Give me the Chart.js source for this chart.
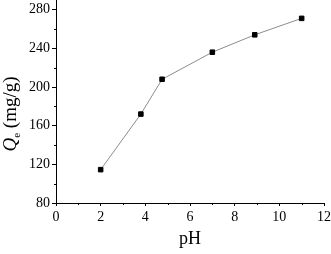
<!DOCTYPE html>
<html>
<head>
<meta charset="utf-8">
<script src="https://cdn.jsdelivr.net/npm/chart.js@4"></script>
<style>
  html, body { margin: 0; padding: 0; background: #fff; }
  #wrap { width: 331px; height: 254px; }
</style>
</head>
<body>
<div id="wrap"><canvas id="grafico"></canvas></div>
<script>
// datos
var phValores = [2, 3.8, 4.75, 7, 8.9, 11];
var qeValores = [114.5, 172, 208, 236, 254, 271];
var xMenores = [1, 3, 5, 7, 9, 11];
var yMenores = [100, 140, 180, 220, 260];

var puntos = phValores.map(function(v, i) { return { x: v, y: qeValores[i] }; });

var fuente = 'Liberation Serif, Times New Roman, serif';

// ticks menores y titulos de ejes
var extras = {
  id: 'extras',
  afterDraw: function(chart) {
    var ctx = chart.ctx, xs = chart.scales.x, ys = chart.scales.y, ca = chart.chartArea;
    ctx.save();
    ctx.strokeStyle = '#000';
    ctx.lineWidth = 1;
    ctx.beginPath();
    xMenores.forEach(function(v) {
      var px = Math.round(xs.getPixelForValue(v)) + 0.5;
      ctx.moveTo(px, ca.bottom);
      ctx.lineTo(px, ca.bottom + 2);
    });
    yMenores.forEach(function(v) {
      var py = Math.round(ys.getPixelForValue(v)) + 0.5;
      ctx.moveTo(ca.left, py);
      ctx.lineTo(ca.left - 2, py);
    });
    ctx.stroke();

    ctx.fillStyle = '#000';
    // titulo x
    ctx.font = '18px ' + fuente;
    ctx.textAlign = 'center';
    ctx.textBaseline = 'alphabetic';
    ctx.fillText('pH', (ca.left + ca.right) / 2, 244);

    // titulo y: Q cursiva con subindice e
    ctx.translate(16, 114);
    ctx.rotate(-Math.PI / 2);
    var partes = [
      { t: 'Q', f: 'italic 19px ' + fuente, dy: 0 },
      { t: 'e', f: '11px ' + fuente, dy: 4 },
      { t: ' (mg/g)', f: '19px ' + fuente, dy: 0 }
    ];
    var total = 0;
    partes.forEach(function(p) { ctx.font = p.f; p.w = ctx.measureText(p.t).width; total += p.w; });
    var x0 = -total / 2;
    ctx.textAlign = 'left';
    partes.forEach(function(p) {
      ctx.font = p.f;
      ctx.fillText(p.t, x0, p.dy);
      x0 += p.w;
    });
    ctx.restore();
  }
};

var graficoQe = new Chart(document.getElementById('grafico'), {
  type: 'line',
  data: {
    datasets: [{
      label: 'Qe',
      data: puntos,
      borderColor: '#8c8c8c',
      borderWidth: 1,
      pointStyle: 'rect',
      pointRadius: 3.2,
      pointBorderWidth: 1,
      pointBackgroundColor: '#000',
      pointBorderColor: '#000',
      tension: 0
    }]
  },
  options: {
    responsive: true,
    maintainAspectRatio: false,
    animation: false,
    layout: { autoPadding: false, padding: { top: 0, right: 7, left: 0, bottom: 0 } },
    plugins: { legend: { display: false }, tooltip: { enabled: false } },
    scales: {
      x: {
        type: 'linear',
        min: 0,
        max: 12,
        afterFit: function(s) { s.height = 51; s.paddingLeft = 0; s.paddingRight = 0; },
        border: { display: true, color: '#000', width: 1 },
        grid: { drawOnChartArea: false, drawTicks: true, tickLength: 3, tickColor: '#000' },
        ticks: { stepSize: 2, color: '#000', padding: 3, maxRotation: 0, font: { family: fuente, size: 14 } }
      },
      y: {
        type: 'linear',
        min: 80,
        max: 290,
        afterFit: function(s) { s.width = 56; s.paddingTop = 0; s.paddingBottom = 0; },
        border: { display: true, color: '#000', width: 1 },
        grid: { drawOnChartArea: false, drawTicks: true, tickLength: 4, tickColor: '#000' },
        ticks: { stepSize: 40, includeBounds: false, color: '#000', padding: 2, font: { family: fuente, size: 14 } }
      }
    }
  },
  plugins: [extras]
});
</script>
</body>
</html>
